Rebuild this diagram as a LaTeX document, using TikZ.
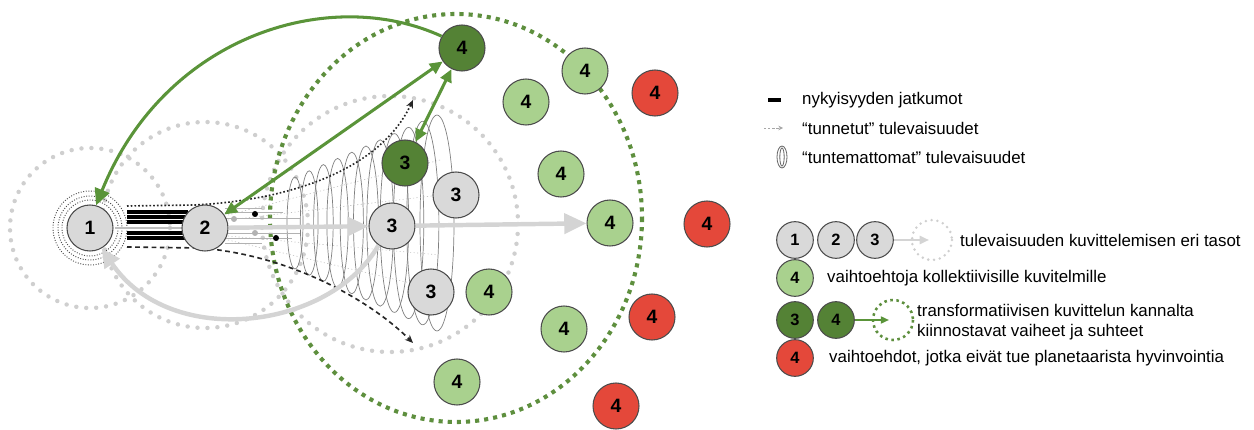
\documentclass[tikz,border=0pt]{standalone}
\usepackage{fontspec}
\setmainfont{Liberation Sans}
\usetikzlibrary{arrows.meta}
\definecolor{ngray}{HTML}{D9D9D9}
\definecolor{nlight}{HTML}{A9D18E}
\definecolor{ndark}{HTML}{548235}
\definecolor{nred}{HTML}{E4483A}
\definecolor{garr}{HTML}{5A9439}
\definecolor{gdot}{HTML}{5E8F3E}
\definecolor{ldot}{HTML}{CFCFCF}
\definecolor{larr}{HTML}{D4D4D4}
\begin{document}
\begin{tikzpicture}[x=0.03cm,y=-0.03cm,
  nd/.style={circle,draw=black!70,line width=0.9pt,minimum size=1.38cm,inner sep=0pt,
    font=\fontsize{16.5}{18}\selectfont\bfseries},
  lnd/.style={nd,minimum size=1.1cm,font=\fontsize{14}{16}\selectfont\bfseries},
  gr/.style={fill=ngray},
  lg/.style={fill=nlight},
  dg/.style={fill=ndark},
  rd/.style={fill=nred},
  graydots/.style={draw=ldot,line width=3.8pt,dash pattern=on 0pt off 8.5pt,line cap=round},
  greendots/.style={draw=gdot,line width=3.5pt,dash pattern=on 3.5pt off 4.3pt},
  garrow/.style={draw=garr,line width=2.6pt},
  larrow/.style={draw=larr,line width=3.8pt},
  spring/.style={draw=black!50,line width=0.6pt},
  txt/.style={font=\fontsize{14.4}{17}\selectfont,inner sep=0pt,anchor=west,align=left}
]
\useasboundingbox (0,0) rectangle (1254,430);

% background dotted circles
\draw[graydots] (90,228) circle[radius=80];
\draw[graydots] (205,225) circle[radius=103];
\draw[graydots] (390,224) circle[radius=128];
\draw[greendots] (456,218) ellipse[x radius=186,y radius=204];

% rings around node 1
\foreach \r in {28,32,37}
  \draw[black!70,line width=0.8pt,dash pattern=on 0.8pt off 1.4pt] (90,228) circle[radius=\r];

% "tuntemattomat" spring of ellipses
\foreach \i in {0,...,10}{
  \pgfmathsetmacro{\cx}{295+\i*14.2}
  \pgfmathsetmacro{\ry}{46+\i*6.2}
  \pgfmathsetmacro{\rx}{8+\i*0.9}
  \draw[spring] (\cx,223) ellipse[x radius=\rx,y radius=\ry];
}

% faint "tunnetut" lines
\foreach \a/\b in {215/160,220/195,236/255,240/290}
  \draw[black!25,line width=0.5pt,dash pattern=on 1pt off 2pt] (228,\a) -- (440,\b);

% present continuities (black bars)
\foreach \yy in {212,217,222,233,238}
  \draw[black,line width=2.6pt] (127,\yy) -- (188,\yy);
\draw[black!25,line width=1.6pt] (115,228) -- (185,228);

% thin lines after node 2
\foreach \yy/\xe in {208/262,212/283,218/300,233/300,238/292,243/262}
  \draw[black!30,line width=0.6pt] (225,\yy) -- (\xe,\yy);
\fill[black] (255,214) circle[radius=3];
\fill[black] (276,238) circle[radius=3];
\fill[black!30] (234,219) circle[radius=3];
\fill[black!30] (255,233) circle[radius=3];

% cone curves
\draw[black!85,line width=1.4pt,dash pattern=on 1.4pt off 1.8pt,-{Stealth[length=7pt,width=6pt]}]
  (127,206) -- (195,205) .. controls (290,200) and (380,170) .. (413,100);
\draw[black!85,line width=1.4pt,dash pattern=on 4pt off 3pt,-{Stealth[length=7pt,width=6pt]}]
  (127,247) -- (200,248) .. controls (290,255) and (370,300) .. (413,343);

% nodes
\node[nd,gr] (n1) at (90,228) {1};
\node[nd,gr] (n2) at (205,228) {2};
\node[nd,gr] (n3) at (392,226) {3};
\node[nd,dg] (n3d) at (405,163) {3};
\node[nd,gr] (n3b) at (456,195) {3};
\node[nd,gr] (n3c) at (431,292) {3};
\node[nd,dg] (n4d) at (462,48) {4};
\node[nd,lg] (la) at (585,71) {4};
\node[nd,lg] (lb) at (526,102) {4};
\node[nd,lg] (lc) at (561,174) {4};
\node[nd,lg] (ld) at (610,223) {4};
\node[nd,lg] (le) at (489,292) {4};
\node[nd,lg] (lf) at (564,329) {4};
\node[nd,lg] (lgg) at (457,382) {4};
\node[nd,rd] (ra) at (655,93) {4};
\node[nd,rd] (rb) at (707,224) {4};
\node[nd,rd] (rc) at (652,317) {4};
\node[nd,rd] (rdd) at (616,406) {4};

% gray arrows
\draw[larrow,-{Triangle[length=18pt,width=16pt]}] (n2) -- (n3);
\draw[larrow,-{Triangle[length=19pt,width=17pt]}] (n3) -- (ld);
\draw[larrow,-{Triangle[length=16pt,width=15pt]}] (n3.235) .. controls (330,330) and (170,350) .. (n1.-60);

% green arrows
\draw[garrow,-{Triangle[length=14pt,width=13pt]}] (n4d.150) .. controls (330,-15) and (165,35) .. (n1.75);
\draw[garrow,{Triangle[length=11pt,width=10pt]}-{Triangle[length=11pt,width=10pt]}] (n4d) -- (n2);
\draw[garrow,{Triangle[length=11pt,width=10pt]}-{Triangle[length=11pt,width=10pt]}] (n4d) -- (n3d);

% legend
\draw[black,line width=3pt] (768,100) -- (781,100);
\node[txt] (t1) at (802,100) {nykyisyyden jatkumot};
\draw[black!35,line width=0.6pt,dash pattern=on 2pt off 1.5pt,-{Stealth[open,length=4pt,width=4pt]}] (764,128) -- (783,128);
\node[txt] (t2) at (802,128) {“tunnetut” tulevaisuudet};
\draw[black!60,line width=0.7pt] (782,157) ellipse[x radius=5,y radius=11];
\draw[black!60,line width=0.7pt] (782,157) ellipse[x radius=2.2,y radius=9];
\node[txt] (t3) at (802,157) {“tuntemattomat” tulevaisuudet};

\node[lnd,gr] (L1) at (795,240) {1};
\node[lnd,gr] (L2) at (836,240) {2};
\node[lnd,gr] (L3) at (875,240) {3};
\draw[graydots,line width=2.4pt,dash pattern=on 0pt off 5pt] (932,240) circle[radius=20];
\coordinate (Lc) at (929,240);
\draw[draw=larr,line width=1.8pt,-{Triangle[length=8pt,width=7pt]}] (L3) -- (Lc);
\node[txt] (t4) at (960,240) {tulevaisuuden kuvittelemisen eri tasot};

\node[lnd,lg] (Lg) at (795,278) {4};
\node[txt] (t5) at (827,278) {vaihtoehtoja kollektiivisille kuvitelmille};

\node[lnd,dg] (Ld3) at (795,320) {3};
\node[lnd,dg] (Ld4) at (836,320) {4};
\draw[draw=gdot,line width=2.2pt,dash pattern=on 2.2pt off 3pt] (893,320) circle[radius=20];
\coordinate (Ldc) at (889,320);
\draw[draw=garr,line width=1.6pt,-{Triangle[length=7pt,width=6pt]}] (Ld4) -- (Ldc);
\node[txt] (t6) at (917,322) {transformatiivisen kuvittelun kannalta\\kiinnostavat vaiheet ja suhteet};

\node[lnd,rd] (Lr) at (795,358) {4};
\node[txt] (t7) at (829,358) {vaihtoehdot, jotka eivät tue planetaarista hyvinvointia};
\end{tikzpicture}
\end{document}
